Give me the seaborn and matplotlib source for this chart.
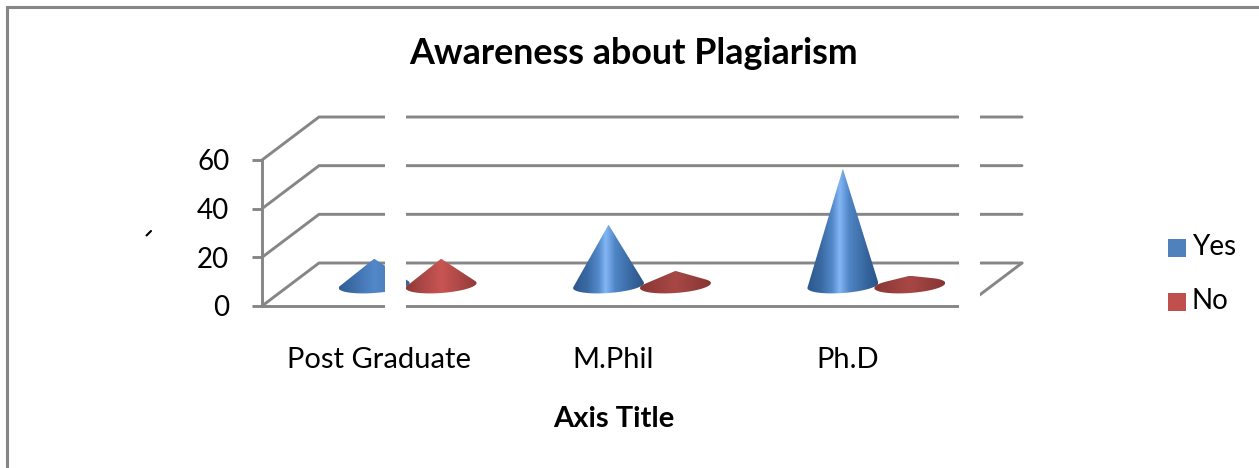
import pandas as pd
import numpy as np
import matplotlib
matplotlib.use('Agg')
import matplotlib.pyplot as plt
import seaborn as sns
from matplotlib.colors import LinearSegmentedColormap
from matplotlib.lines import Line2D
from matplotlib.patches import PathPatch, Rectangle
from matplotlib.path import Path

# data
niveis = ['Post Graduate', 'M.Phil', 'Ph.D']
yes = [11, 25, 48]
no = [11, 6, 4]
y_ticks = [0, 20, 40, 60]

W, H = 1259, 468
GREY = '#868686'

sns.set_theme(style='white')
plt.rcParams['font.family'] = ['Lato', 'DejaVu Sans']

df = pd.DataFrame({
    'Nivel': niveis * 2,
    'Valor': yes + no,
    'Resposta': ['Yes'] * 3 + ['No'] * 3,
})
cores = {'Yes': '#4f81bd', 'No': '#c0504d'}


def caixa(x0, x1, y_base, y_topo):
    # pixel box (top-left origin) to figure fractions
    return [x0 / W, 1 - y_base / H, (x1 - x0) / W, (y_base - y_topo) / H]


fig = plt.figure(figsize=(W / 100, H / 100), dpi=100)

# front plane of the 3D box: y=0 at 306 px, y=60 at 160 px
ax = fig.add_axes(caixa(262, 965, 306, 160))
ax.set_xlim(-0.5, 2.5)
ax.set_ylim(0, 60)
ax.set_facecolor('none')
for lado in ['top', 'right']:
    ax.spines[lado].set_visible(False)
for lado in ['left', 'bottom']:
    ax.spines[lado].set_color(GREY)
    ax.spines[lado].set_linewidth(2.1)
ax.set_xticks(range(3), niveis)
ax.set_yticks(y_ticks)
ax.tick_params(axis='y', length=7, width=2.1, color=GREY, labelsize=20, pad=16.5,
               labelcolor='black', left=True)
ax.tick_params(axis='x', length=0, labelsize=21, pad=29.5, labelcolor='black')
ax.set_xlabel('Axis Title', fontsize=21, fontweight='bold', color='black', labelpad=23.5)

# depth offset of the back wall, in data units of the front plane
dx = 57 / (703 / 3)
dy = 43 / (146 / 60)
for v in y_ticks:
    ax.plot([-0.5, -0.5 + dx, 2.5 + dx], [v, v + dy, v + dy], color=GREY, lw=2.1,
            clip_on=False, solid_joinstyle='miter')
# right edge of the floor
ax.plot([2.5, 2.5 + dx], [0, dy], color=GREY, lw=2.1, clip_on=False)

# cones sit half way into the box, so their axes is shifted by half the depth
ax_cone = fig.add_axes(caixa(262 + 28.5, 965 + 28.5, 285.5, 139.5))
ax_cone.set_facecolor('none')
sns.barplot(data=df, x='Nivel', y='Valor', hue='Resposta', palette=cores, width=0.571,
            gap=0, legend=False, ax=ax_cone)
ax_cone.set_xlim(-0.5, 2.5)
ax_cone.set_ylim(0, 60)
ax_cone.axis('off')

mapas = {
    'Yes': LinearSegmentedColormap.from_list('yes', [
        (0.0, '#2c578c'), (0.2, '#3a6aa4'), (0.36, '#548aca'), (0.46, '#82b6f5'),
        (0.6, '#4f84c4'), (0.85, '#35649c'), (1.0, '#2a5486')]),
    'No': LinearSegmentedColormap.from_list('no', [
        (0.0, '#8f3937'), (0.25, '#ad4947'), (0.5, '#c95552'),
        (0.75, '#ad4947'), (1.0, '#8f3937')]),
}
mapas_baixos = {
    'Yes': LinearSegmentedColormap.from_list('yes2', [
        (0.0, '#2f5c92'), (0.3, '#4577b4'), (0.5, '#5288c9'),
        (0.75, '#4a7db9'), (1.0, '#35639a')]),
    'No': LinearSegmentedColormap.from_list('no2', [
        (0.0, '#8a3634'), (0.5, '#a84846'), (1.0, '#873533')]),
}

b = 7.5 * 60 / 146  # half height of the base ellipse
fator = 1.06        # cones are a bit wider than their bar slot
# the base ellipse leans: right end about 5 px higher than the left end
inclinacao = (5 * 60 / 146) / (71 / (703 / 3))
for container, resposta in zip(ax_cone.containers, ['Yes', 'No']):
    for barra in container:
        barra.set_visible(False)
        cx = barra.get_x() + barra.get_width() / 2
        a = barra.get_width() / 2 * fator
        h = barra.get_height()
        # tangent points from the apex onto the base ellipse
        yt = b ** 2 / h
        xt = a * np.sqrt(1 - (yt / b) ** 2)
        t0 = np.arctan2(yt / b, xt / a)
        t = np.linspace(t0, np.pi - t0 - 2 * np.pi, 60)
        xs = cx + a * np.cos(t)
        ys = b * np.sin(t) + inclinacao * (xs - cx)
        pontos = np.vstack([[cx, h], np.column_stack([xs, ys]), [cx, h]])
        patch = PathPatch(Path(pontos), transform=ax_cone.transData, fc='none', ec='none')
        ax_cone.add_patch(patch)
        if resposta == 'Yes':
            mapa = mapas['Yes'] if h > 15 else mapas_baixos['Yes']
        else:
            mapa = mapas['No'] if h > 8 else mapas_baixos['No']
        im = ax_cone.imshow(np.linspace(0, 1, 256).reshape(1, -1), cmap=mapa, aspect='auto',
                            extent=[cx - a, cx + a, -2 * b, h], interpolation='bilinear', zorder=3)
        im.set_clip_path(patch)
        im.set_clip_box(fig.bbox)
ax_cone.set_xlim(-0.5, 2.5)
ax_cone.set_ylim(0, 60)

# white strips that cut through the plot in the original image
for x0, x1 in [(385, 406.5), (959, 980)]:
    fig.add_artist(Rectangle((x0 / W, 1 - 325 / H), (x1 - x0) / W, 230 / H, fc='white', ec='none',
                             transform=fig.transFigure, zorder=5))

# outer chart border, only top and left are in the picture
fig.add_artist(Line2D([7 / W, 7 / W, 1], [0, 1 - 6.5 / H, 1 - 6.5 / H], color=GREY, lw=2.2,
                      solid_joinstyle='miter', zorder=6))
# leftover of the rotated axis title
fig.add_artist(Line2D([146.5 / W, 151 / W], [1 - 235.5 / H, 1 - 231 / H], color='black', lw=1.5,
                      zorder=6))

fig.text(634 / W, 1 - 53 / H, 'Awareness about Plagiarism', fontsize=25.8, fontweight='bold',
         color='black', ha='center', va='center')

# legend
for nome, y_px in [('Yes', 248), ('No', 302)]:
    fig.add_artist(Rectangle((1168 / W, 1 - (y_px + 9) / H), 18 / W, 18 / H, fc=cores[nome], ec='none',
                             transform=fig.transFigure, zorder=6))
    fig.text(1192 / W, 1 - (y_px - 1) / H, nome, fontsize=20, color='black', ha='left', va='center')

fig.savefig('out.png', dpi=100, facecolor='white')
